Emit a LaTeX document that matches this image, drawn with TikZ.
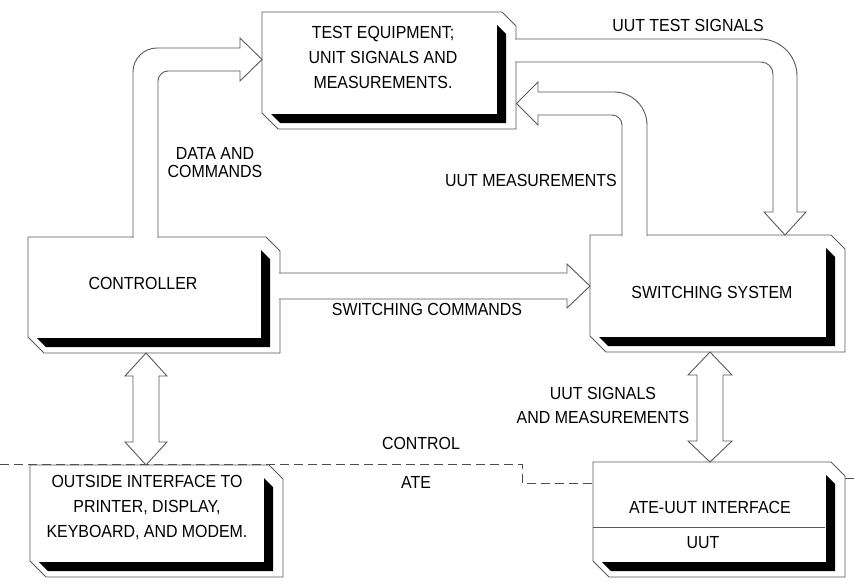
\documentclass[tikz,border=0pt]{standalone}
\usepackage{fontspec}
\setmainfont{Liberation Sans}[FakeStretch=0.91]
\begin{document}
\begin{tikzpicture}[x=1pt,y=-1pt,
  boxline/.style={draw=black!65,line width=0.9pt},
  arr/.style={draw=black!65,line width=0.9pt,fill=white,line join=miter},
  bnd/.style={draw=black!70,line width=0.9pt,dash pattern=on 9pt off 5pt},
  lbl/.style={font=\fontsize{17.5}{25}\selectfont,align=center,inner sep=0pt,text=black}]
\useasboundingbox (0,0) rectangle (854,581);
\newcommand\chambox[4]{%
  \filldraw[boxline,fill=white] (#1,#2) -- ({#3-14},#2) -- (#3,{#2+14}) -- (#3,#4) -- ({#1+16},#4) -- (#1,{#4-16}) -- cycle;
  \fill[black] ({#3-19},{#2+13}) -- ({#3-10},{#2+22}) -- ({#3-10},{#4-6}) -- ({#1+18},{#4-6}) -- ({#1+9},{#4-15}) -- ({#3-19},{#4-15}) -- cycle;}
% control / ATE boundary
\draw[bnd] (0,464) -- (522,464) -- (522,483) -- (593,483);
\draw[bnd] (845,478) -- (854,478);
% boxes
\chambox{262}{12}{516}{129}
\chambox{28}{237}{280}{353}
\chambox{590}{235}{845}{352}
\chambox{30}{465}{283}{577}
\chambox{593}{462}{845}{577}
\draw[boxline] (593,527) -- (825,527);
% block arrows
\filldraw[arr] (158,238) -- (158,81) .. controls (158,75.5) and (162.5,71) .. (168,71) -- (240,71) -- (240,81) -- (262,59.5) -- (240,38) -- (240,48) -- (157,48) .. controls (143.7,48) and (133,58.7) .. (133,72) -- (133,238);
\filldraw[arr] (515,62) -- (761,62) .. controls (767.6,62) and (773,67.4) .. (773,74) -- (773,212) -- (764,212) -- (785,235) -- (806,212) -- (797,212) -- (797,76) .. controls (797,55.6) and (780.4,39) .. (760,39) -- (515,39);
\filldraw[arr] (622,236) -- (622,125) .. controls (622,119.5) and (617.5,115) .. (612,115) -- (538,115) -- (538,125) -- (516.5,103.5) -- (538,82) -- (538,92) -- (614,92) .. controls (632.2,92) and (647,106.8) .. (647,125) -- (647,236);
\filldraw[arr] (279,273) -- (567,273) -- (567,264) -- (590,286) -- (567,308) -- (567,299) -- (279,299);
\filldraw[arr] (146,353) -- (167,376) -- (159,376) -- (159,442) -- (167,442) -- (146,465) -- (125,442) -- (133,442) -- (133,376) -- (125,376) -- cycle;
\filldraw[arr] (710,352) -- (732,375) -- (723,375) -- (723,441) -- (732,441) -- (710,462) -- (688,441) -- (697,441) -- (697,375) -- (688,375) -- cycle;
% labels
\node[lbl] (te) at (383,57.5) {TEST EQUIPMENT;\\UNIT SIGNALS AND\\MEASUREMENTS.};
\node[lbl] (ctl) at (143,283) {CONTROLLER};
\node[lbl] (sw) at (712,292) {SWITCHING SYSTEM};
\node[lbl] (oi) at (147,508) {OUTSIDE INTERFACE TO\\PRINTER, DISPLAY,\\KEYBOARD, AND MODEM.};
\node[lbl] (ai) at (710,507) {ATE-UUT INTERFACE};
\node[lbl] (uut) at (703,543) {UUT};
\node[lbl,font=\fontsize{17.5}{18}\selectfont] (dc) at (215,163) {DATA AND\\COMMANDS};
\node[lbl] (uts) at (688,25) {UUT TEST SIGNALS};
\node[lbl,anchor=east] (um) at (617,180) {UUT MEASUREMENTS};
\node[lbl] (sc) at (427,309) {SWITCHING COMMANDS};
\node[lbl,font=\fontsize{17.5}{24}\selectfont] (usm) at (603,405) {UUT SIGNALS\\AND MEASUREMENTS};
\node[lbl] (cl) at (421,443) {CONTROL};
\node[lbl] (ate) at (416,482) {ATE};
\end{tikzpicture}
\end{document}
